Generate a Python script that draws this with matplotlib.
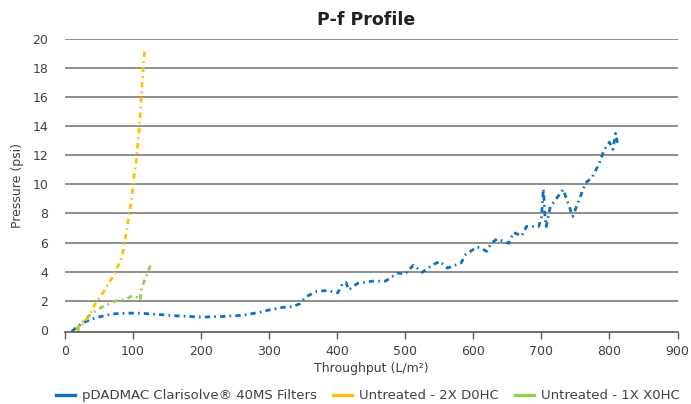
# P-f Profile: Druckverlauf über den Durchsatz für drei Filtervarianten

import matplotlib.pyplot as plt
from matplotlib.lines import Line2D

# Messwerte pDADMAC Clarisolve 40MS
durchsatz_blau = [10, 19, 27, 40, 51, 70, 90, 110, 140, 170, 200, 230, 260, 285, 300, 320,
                  335, 345, 355, 370, 385, 401, 408, 413, 417, 430, 452, 471, 488, 500,
                  512, 525, 539, 551, 562, 582, 589, 606, 620, 626, 635, 652, 659, 671,
                  678, 696, 700, 703, 705, 707, 713, 732, 746, 765, 775, 785, 792, 800,
                  805, 809, 812]
druck_blau = [-0.1, 0.25, 0.5, 0.75, 0.9, 1.1, 1.15, 1.15, 1.05, 0.95, 0.88, 0.92, 1.0, 1.2,
              1.37, 1.55, 1.6, 1.8, 2.3, 2.65, 2.7, 2.55, 3.2, 3.25, 2.75, 3.2, 3.35, 3.35,
              3.9, 3.85, 4.45, 3.95, 4.45, 4.7, 4.25, 4.6, 5.2, 5.7, 5.4, 5.95, 6.25, 5.95,
              6.7, 6.45, 7.1, 7.1, 7.7, 9.7, 8.0, 7.1, 8.45, 9.65, 7.8, 10.1, 10.5, 11.45,
              12.35, 12.9, 12.4, 13.5, 12.8]

# Unbehandelt - 2X D0HC
durchsatz_gelb = [17, 24, 36, 41, 48, 58, 72, 84, 89, 92, 96, 98, 101, 105, 109, 112, 114.5, 117]
druck_gelb = [-0.2, 0.27, 1.0, 1.5, 2.06, 2.7, 3.8, 5.0, 6.4, 7.2, 8.45, 9.05, 10.4, 11.7,
              13.7, 15.8, 17.7, 19.2]

# Unbehandelt - 1X X0HC
durchsatz_gruen = [17, 24, 36, 48, 60, 75, 89, 99, 104, 111, 111, 116, 122, 127]
druck_gruen = [0.05, 0.45, 1.0, 1.4, 1.7, 2.0, 2.1, 2.35, 2.3, 2.06, 2.6, 3.3, 4.0, 4.6]

x_ticks = list(range(0, 1000, 100))
y_ticks = list(range(0, 22, 2))

farben = ['#1170be', '#ffc000', '#92d050']
namen = ['pDADMAC Clarisolve® 40MS Filters', 'Untreated - 2X D0HC', 'Untreated - 1X X0HC']

plt.rcParams['font.family'] = 'DejaVu Sans'

fig = plt.figure(figsize=(6.91, 4.04), dpi=100)
ax = fig.add_axes([0.094, 0.178, 0.8865, 0.726])

# Strich-Punkt-Linie wie in Excel
stil = dict(linestyle=(0, (1.9, 1.5, 0.6, 1.5)), linewidth=2.0, dash_capstyle='butt')
ax.plot(durchsatz_blau, druck_blau, color=farben[0], **stil)
ax.plot(durchsatz_gelb, druck_gelb, color=farben[1], **stil)
ax.plot(durchsatz_gruen, druck_gruen, color=farben[2], **stil)

ax.set_xlim(0, 900)
ax.set_ylim(-0.15, 20)
ax.set_xticks(x_ticks)
ax.set_yticks(y_ticks)
ax.tick_params(axis='x', length=5, width=1, color='#595959', labelsize=9, labelcolor='#404040', pad=4)
ax.tick_params(axis='y', length=0, labelsize=9, labelcolor='#404040', pad=12)

ax.yaxis.grid(True, color='#868686', linewidth=1.3)
ax.get_ygridlines()[0].set_visible(False)
ax.set_axisbelow(True)
for s in ['top', 'right', 'left']:
    ax.spines[s].set_visible(False)
ax.spines['bottom'].set_color('#595959')
ax.spines['bottom'].set_linewidth(1.2)

ax.set_xlabel('Throughput (L/m²)', fontsize=9, color='#404040', labelpad=3)
ax.set_ylabel('Pressure (psi)', fontsize=9, color='#404040', labelpad=6)
fig.text(0.53, 0.95, 'P-f Profile', ha='center', va='center', fontsize=12.5,
         fontweight='bold', color='#202020')

# Legende mit durchgezogenen Linien unter dem Diagramm
griffe = [Line2D([0], [0], color=f, linewidth=2.4) for f in farben]
fig.legend(griffe, namen, loc='center', bbox_to_anchor=(0.532, 0.02), ncol=3, frameon=False,
           fontsize=9.5, handlelength=1.5, handletextpad=0.5, columnspacing=1.2,
           labelcolor='#404040')

fig.savefig('out.png', dpi=100)
